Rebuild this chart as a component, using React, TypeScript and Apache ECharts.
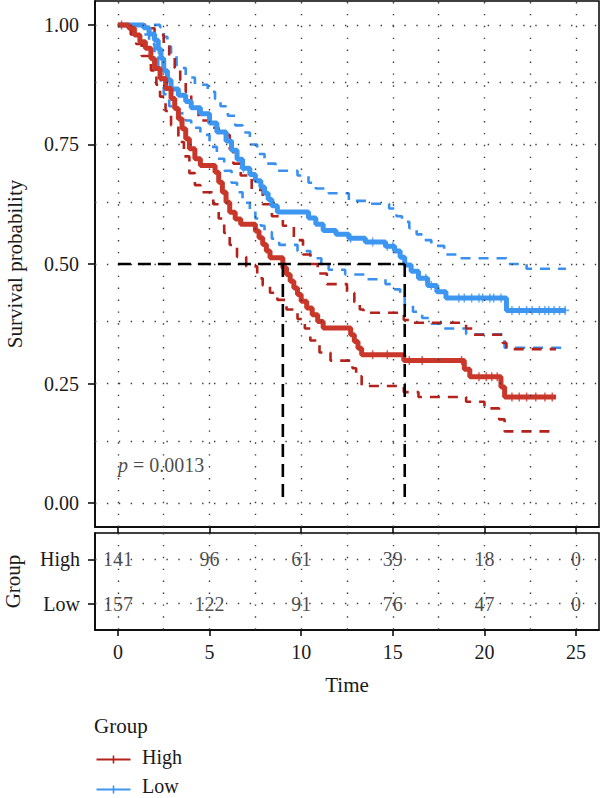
import React, { useEffect, useRef } from "react";
import * as echarts from "echarts";

const FONT = '"Liberation Serif", "DejaVu Serif", serif';
const INK = "#1a1a1a";

const RED = "#c9372a";
const RED_CI = "#b5221b";
const BLUE = "#3d96f0";
const BLUE_CI = "#3a90ee";

// Kaplan–Meier estimates, [time, survival]
const highCurve: [number, number][] = [
  [0, 1], [0.6, 0.993], [0.9, 0.979], [1.2, 0.965], [1.5, 0.951], [1.8, 0.93], [2.0, 0.909],
  [2.3, 0.888], [2.6, 0.867], [2.9, 0.846], [3.1, 0.825], [3.3, 0.804], [3.5, 0.783], [3.7, 0.762],
  [3.9, 0.741], [4.2, 0.72], [4.5, 0.706], [5.3, 0.692], [5.5, 0.671], [5.7, 0.65], [5.9, 0.629],
  [6.1, 0.608], [6.4, 0.594], [6.7, 0.583], [7.5, 0.569], [7.7, 0.555], [7.9, 0.541], [8.1, 0.527],
  [8.3, 0.513], [9.0, 0.492], [9.2, 0.478], [9.4, 0.464], [9.6, 0.45], [9.8, 0.436], [10.0, 0.422],
  [10.3, 0.408], [10.6, 0.394], [10.9, 0.38], [11.2, 0.366], [12.7, 0.352], [12.9, 0.338],
  [13.1, 0.324], [13.3, 0.31], [15.6, 0.298], [18.9, 0.28], [19.2, 0.264], [20.9, 0.243],
  [21.1, 0.222], [23.9, 0.222],
];

const lowCurve: [number, number][] = [
  [0, 1], [1.4, 0.994], [1.7, 0.981], [2.0, 0.968], [2.2, 0.949], [2.35, 0.93], [2.5, 0.904],
  [2.7, 0.885], [2.9, 0.866], [3.3, 0.853], [3.7, 0.84], [4.0, 0.827], [4.5, 0.814], [5.0, 0.795],
  [5.4, 0.776], [5.9, 0.757], [6.2, 0.738], [6.5, 0.719], [6.8, 0.7], [7.2, 0.687], [7.5, 0.674],
  [7.8, 0.661], [8.0, 0.648], [8.2, 0.635], [8.4, 0.622], [8.7, 0.609], [10.4, 0.596],
  [10.8, 0.583], [11.2, 0.57], [11.9, 0.562], [12.6, 0.554], [13.5, 0.546], [14.6, 0.537],
  [15.1, 0.527], [15.4, 0.514], [15.65, 0.498], [16.0, 0.485], [16.4, 0.47], [16.9, 0.455],
  [17.4, 0.442], [17.9, 0.429], [21.2, 0.403], [24.45, 0.403],
];

// 95% confidence bands
const highUpper: [number, number][] = [
  [0, 1], [1.5, 0.993], [2.0, 0.979], [2.5, 0.96], [2.8, 0.935], [3.1, 0.91], [3.4, 0.885],
  [3.7, 0.86], [4.0, 0.83], [4.4, 0.8], [5.0, 0.785], [5.5, 0.77], [6.1, 0.74], [6.3, 0.71],
  [6.7, 0.685], [7.3, 0.655], [7.9, 0.625], [8.4, 0.6], [9.0, 0.58], [9.6, 0.55], [10.1, 0.52],
  [10.5, 0.5], [10.9, 0.48], [11.4, 0.458], [12.5, 0.44], [12.9, 0.42], [13.2, 0.405],
  [13.4, 0.398], [15.6, 0.383], [16.1, 0.377], [19.0, 0.365], [19.4, 0.352], [21.0, 0.335],
  [21.2, 0.322], [23.9, 0.322],
];

const highLower: [number, number][] = [
  [0, 1], [0.7, 0.98], [1.0, 0.96], [1.3, 0.935], [1.8, 0.905], [2.1, 0.875], [2.3, 0.85],
  [2.6, 0.82], [2.9, 0.79], [3.3, 0.755], [3.6, 0.725], [3.9, 0.69], [4.2, 0.665], [4.5, 0.65],
  [5.2, 0.625], [5.5, 0.595], [5.8, 0.565], [6.1, 0.54], [6.5, 0.515], [7.0, 0.495], [7.6, 0.47],
  [7.9, 0.455], [8.3, 0.44], [8.7, 0.425], [9.2, 0.405], [9.8, 0.385], [10.2, 0.365],
  [10.5, 0.34], [11.0, 0.315], [11.6, 0.298], [12.8, 0.282], [13.0, 0.265], [13.3, 0.245],
  [15.6, 0.232], [16.4, 0.222], [19.0, 0.212], [20.0, 0.198], [20.8, 0.175], [21.1, 0.15],
  [23.9, 0.15],
];

const lowUpper: [number, number][] = [
  [0, 1], [2.3, 0.995], [2.5, 0.975], [2.7, 0.955], [2.9, 0.935], [3.2, 0.91], [3.7, 0.89],
  [4.2, 0.875], [4.9, 0.86], [5.3, 0.845], [5.6, 0.83], [6.0, 0.81], [6.4, 0.79], [6.8, 0.775],
  [7.2, 0.75], [7.6, 0.73], [8.0, 0.71], [8.6, 0.695], [9.8, 0.685], [10.4, 0.67], [10.8, 0.658],
  [11.5, 0.648], [12.6, 0.632], [13.7, 0.626], [14.8, 0.616], [15.2, 0.6], [15.5, 0.588],
  [15.9, 0.575], [16.3, 0.562], [16.7, 0.55], [17.1, 0.538], [17.8, 0.52], [18.6, 0.512],
  [21.2, 0.5], [22.3, 0.49], [24.45, 0.49],
];

const lowLower: [number, number][] = [
  [0, 1], [1.4, 0.98], [1.7, 0.96], [2.0, 0.935], [2.2, 0.91], [2.35, 0.88], [2.5, 0.855],
  [2.8, 0.83], [3.3, 0.815], [3.7, 0.8], [4.0, 0.785], [4.5, 0.77], [5.0, 0.745], [5.4, 0.72],
  [5.8, 0.695], [6.2, 0.67], [6.5, 0.65], [6.8, 0.628], [7.2, 0.61], [7.5, 0.595], [7.8, 0.58],
  [8.0, 0.567], [8.4, 0.553], [8.8, 0.54], [9.8, 0.527], [10.5, 0.512], [11.1, 0.497],
  [11.5, 0.488], [12.4, 0.478], [13.5, 0.468], [14.6, 0.458], [15.1, 0.447], [15.4, 0.43],
  [15.65, 0.415], [16.1, 0.4], [16.6, 0.387], [17.1, 0.375], [17.8, 0.365], [19.0, 0.353],
  [21.1, 0.325], [24.45, 0.325],
];

// censoring times
const highCensor = [0.2, 3.4, 13.9, 14.7, 15.9, 16.6, 18.75, 19.7, 20.1, 20.4, 20.7, 21.5, 21.9, 22.3, 22.8, 23.3, 23.7];
const lowCensor = [2.2, 6.85, 12.7, 13.9, 14.7, 15.0, 16.8, 17.1, 18.6, 18.9, 19.3, 19.7, 19.9, 20.3, 20.5, 20.9, 21.5, 21.9, 22.3, 22.6, 23.0, 23.3, 23.5, 23.8, 24.1, 24.4];

const highMedian = 9.0;
const lowMedian = 15.65;
const pValueText = "0.0013";

// number at risk table
const riskTimes = [0, 5, 10, 15, 20, 25];
const riskHigh = [141, 96, 61, 39, 18, 0];
const riskLow = [157, 122, 91, 76, 47, 0];
const groups = ["High", "Low"];

const timeTicks = [0, 5, 10, 15, 20, 25];
const timeGrid = [0, 2.5, 5, 7.5, 10, 12.5, 15, 17.5, 20, 22.5, 25];
const survTicks = [0, 0.25, 0.5, 0.75, 1];
const survGrid = [0, 0.125, 0.25, 0.375, 0.5, 0.625, 0.75, 0.875, 1];

const survivalAt = (curve: [number, number][], t: number) => {
  let s = curve[0][1];
  for (const [ti, si] of curve) {
    if (ti <= t) s = si;
    else break;
  }
  return s;
};

const PLUS = "path://M0,-4L0,4M-4,0L4,0";
const DOTTED = { color: "#3a3a3a", width: 1.4, type: [1.4, 10.5] as number[] };

export default function App() {
  const ref = useRef<HTMLDivElement>(null);

  useEffect(() => {
    document.body.style.margin = "0";
    if (!ref.current) return;
    const chart = echarts.init(ref.current, null, { renderer: "svg" });

    const txt = { fontFamily: FONT, fontSize: 20, color: INK };
    const nameTxt = { fontFamily: FONT, fontSize: 21, color: INK };
    const blackLine = { color: "#000", width: 1.5 };
    const axisLine = { show: true, onZero: false, lineStyle: blackLine };

    const gridMarks = (xs: number[], ys: number[]) => ({
      silent: true,
      symbol: ["none", "none"],
      label: { show: false },
      lineStyle: DOTTED,
      emphasis: { disabled: true },
      data: [...xs.map((x) => ({ xAxis: x })), ...ys.map((y) => ({ yAxis: y }))],
    });

    const ciSeries = (data: [number, number][], color: string) => ({
      type: "line",
      xAxisIndex: 0,
      yAxisIndex: 0,
      step: "end",
      symbol: "none",
      data,
      lineStyle: { color, width: 2.6, type: [10, 8] },
      z: 3,
    });

    const kmSeries = (data: [number, number][], color: string) => ({
      type: "line",
      xAxisIndex: 0,
      yAxisIndex: 0,
      step: "end",
      symbol: "none",
      data,
      lineStyle: { color, width: 5 },
      z: 4,
    });

    const censorSeries = (times: number[], curve: [number, number][], color: string) => ({
      type: "scatter",
      xAxisIndex: 0,
      yAxisIndex: 0,
      symbol: PLUS,
      symbolSize: [8, 9],
      data: times.map((t) => [t, survivalAt(curve, t)]),
      itemStyle: { color: "none", borderColor: color, borderWidth: 1.6 },
      z: 5,
    });

    const medianLine = (data: [number, number][]) => ({
      type: "line",
      xAxisIndex: 0,
      yAxisIndex: 0,
      symbol: "none",
      data,
      lineStyle: { color: "#000", width: 2.6, type: [13, 7] },
      z: 6,
    });

    const riskRow = (values: number[], row: number) => ({
      type: "scatter",
      xAxisIndex: 1,
      yAxisIndex: 1,
      symbolSize: 0,
      data: values.map((v, i) => [riskTimes[i], row, v]),
      label: {
        show: true,
        position: "inside",
        formatter: (p: any) => String(p.value[2]),
        ...txt,
      },
      z: 5,
    });

    const gridBase = {
      left: 95,
      width: 504,
      show: true,
      borderColor: "#000",
      borderWidth: 1.5,
      backgroundColor: "transparent",
      containLabel: false,
      outerBoundsMode: "none",
    };

    chart.setOption({
      animation: false,
      grid: [
        { ...gridBase, top: 1, height: 526 },
        { ...gridBase, top: 533, height: 97 },
      ],
      xAxis: [
        {
          gridIndex: 0,
          type: "value",
          min: -1.25,
          max: 26.25,
          axisLine,
          axisTick: { show: true, length: 6, customValues: timeTicks, lineStyle: blackLine },
          axisLabel: { show: false, customValues: timeTicks },
          splitLine: { show: false },
        },
        {
          gridIndex: 1,
          type: "value",
          min: -1.25,
          max: 26.25,
          name: "Time",
          nameLocation: "middle",
          nameGap: 44,
          nameTextStyle: nameTxt,
          axisLine,
          axisTick: { show: true, length: 6, customValues: timeTicks, lineStyle: blackLine },
          axisLabel: { customValues: timeTicks, margin: 12, ...txt },
          splitLine: { show: false },
        },
      ],
      yAxis: [
        {
          gridIndex: 0,
          type: "value",
          min: -0.05,
          max: 1.05,
          name: "Survival probability",
          nameLocation: "middle",
          nameGap: 70,
          nameRotate: 90,
          nameTextStyle: nameTxt,
          axisLine,
          axisTick: { show: true, length: 7, customValues: survTicks, lineStyle: blackLine },
          axisLabel: { customValues: survTicks, formatter: (v: number) => v.toFixed(2), margin: 16, ...txt },
          splitLine: { show: false },
        },
        {
          gridIndex: 1,
          type: "value",
          min: 0.4,
          max: 2.6,
          inverse: true,
          name: "Group",
          nameLocation: "middle",
          nameGap: 72,
          nameRotate: 90,
          nameTextStyle: nameTxt,
          axisLine,
          axisTick: { show: true, length: 7, customValues: [1, 2], lineStyle: blackLine },
          axisLabel: {
            customValues: [1, 2],
            formatter: (v: number) => groups[Math.round(v) - 1] ?? "",
            margin: 15,
            ...txt,
          },
          splitLine: { show: false },
        },
      ],
      series: [
        {
          type: "line",
          xAxisIndex: 0,
          yAxisIndex: 0,
          data: [],
          markLine: gridMarks(timeGrid, survGrid),
          z: 1,
        },
        {
          type: "line",
          xAxisIndex: 1,
          yAxisIndex: 1,
          data: [],
          markLine: gridMarks(timeGrid, [1, 2]),
          z: 1,
        },
        ciSeries(lowUpper, BLUE_CI),
        ciSeries(lowLower, BLUE_CI),
        ciSeries(highUpper, RED_CI),
        ciSeries(highLower, RED_CI),
        kmSeries(lowCurve, BLUE),
        kmSeries(highCurve, RED),
        censorSeries(lowCensor, lowCurve, BLUE),
        censorSeries(highCensor, highCurve, RED),
        medianLine([[0, 0.5], [lowMedian, 0.5]]),
        medianLine([[highMedian, 0.5], [highMedian, 0]]),
        medianLine([[lowMedian, 0.5], [lowMedian, 0]]),
        {
          type: "scatter",
          xAxisIndex: 0,
          yAxisIndex: 0,
          symbolSize: 0,
          data: [[0, 0.08]],
          label: {
            show: true,
            position: "right",
            distance: 0,
            formatter: "{i|p} = " + pValueText,
            ...txt,
            rich: { i: { fontFamily: FONT, fontSize: 20, fontStyle: "italic", color: INK } },
          },
          z: 6,
        },
        riskRow(riskHigh, 1),
        riskRow(riskLow, 2),
      ],
      graphic: [
        { type: "text", left: 94, top: 715, style: { text: "Group", font: `21px ${FONT}`, fill: INK } },
        {
          type: "group",
          left: 94,
          top: 753,
          children: [
            { type: "line", shape: { x1: 0, y1: 5, x2: 34, y2: 5 }, style: { stroke: RED_CI, lineWidth: 2 } },
            { type: "line", shape: { x1: 17, y1: 1, x2: 17, y2: 9 }, style: { stroke: RED_CI, lineWidth: 1.6 } },
          ],
        },
        { type: "text", left: 142, top: 747, style: { text: "High", font: `20px ${FONT}`, fill: INK } },
        {
          type: "group",
          left: 94,
          top: 783,
          children: [
            { type: "line", shape: { x1: 0, y1: 5, x2: 34, y2: 5 }, style: { stroke: BLUE, lineWidth: 2 } },
            { type: "line", shape: { x1: 17, y1: 1, x2: 17, y2: 9 }, style: { stroke: BLUE, lineWidth: 1.6 } },
          ],
        },
        { type: "text", left: 142, top: 776, style: { text: "Low", font: `20px ${FONT}`, fill: INK } },
      ],
    });

    return () => chart.dispose();
  }, []);

  return <div ref={ref} style={{ width: 600, height: 798 }} />;
}
